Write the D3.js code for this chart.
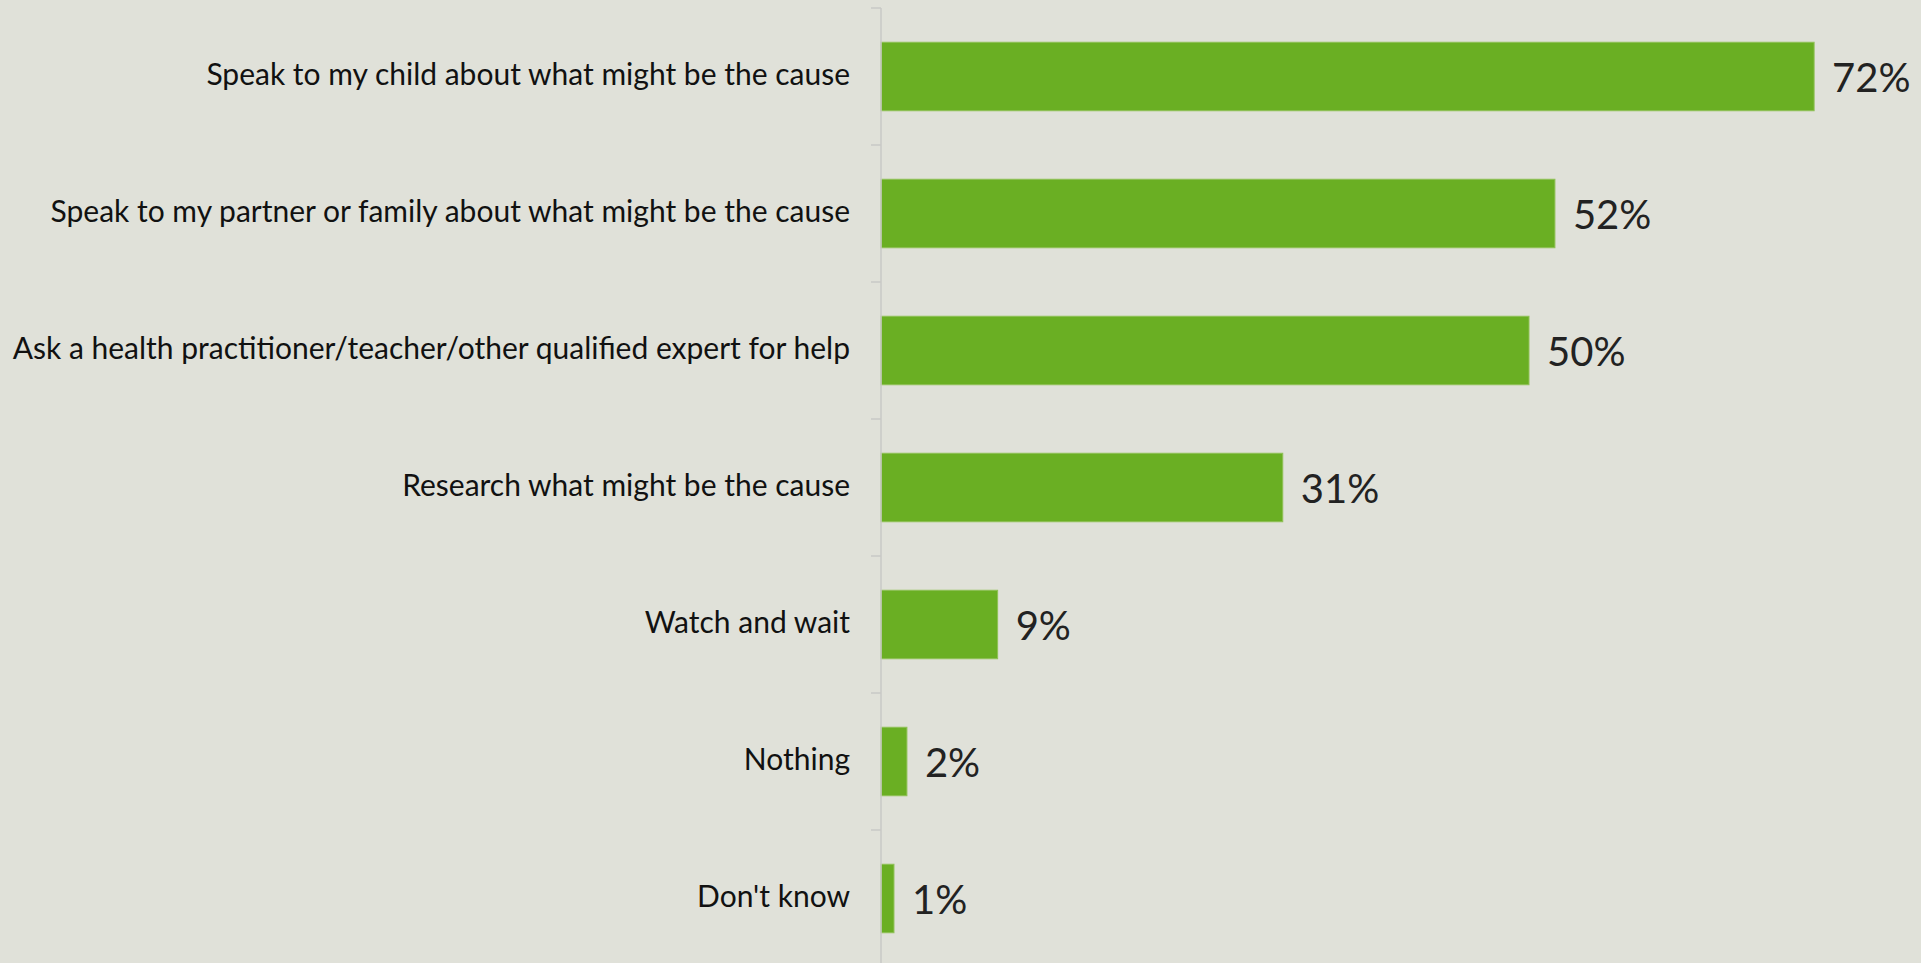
<!DOCTYPE html>
<html>
<head>
<meta charset="utf-8">
<script src="https://cdn.jsdelivr.net/npm/d3@7"></script>
<style>
  html, body { margin: 0; padding: 0; background: #e0e1d9; overflow: hidden; }
  svg { display: block; }
</style>
</head>
<body>
<svg id="chart" width="1921" height="963"></svg>
<script>
// Survey answers and share of respondents (%)
const categories = [
  "Speak to my child about what might be the cause",
  "Speak to my partner or family about what might be the cause",
  "Ask a health practitioner/teacher/other qualified expert for help",
  "Research what might be the cause",
  "Watch and wait",
  "Nothing",
  "Don't know"
];
const values = [72, 52, 50, 31, 9, 2, 1];
const valueLabels = ["72%", "52%", "50%", "31%", "9%", "2%", "1%"];

const width = 1921, height = 963;
const axisX = 881;

const svg = d3.select("#chart");

svg.append("rect")
  .attr("width", width).attr("height", height)
  .attr("fill", "#e0e1d9");

const x = d3.scaleLinear().domain([0, 80]).range([axisX, axisX + 80 * 12.96]);
const y = d3.scaleBand()
  .domain(categories)
  .range([8, 8 + 7 * 137])
  .paddingInner(0.5)
  .paddingOuter(0.25);

// bars
svg.append("g").selectAll("rect")
  .data(values)
  .join("rect")
  .attr("x", x(0))
  .attr("y", (d, i) => y(categories[i]))
  .attr("width", d => x(d) - x(0))
  .attr("height", y.bandwidth())
  .attr("fill", "#6aaf23")
  .attr("stroke", "#8fc156")
  .attr("stroke-width", 1);

// category axis: vertical line plus ticks at band boundaries
const axis = svg.append("g");
axis.append("line")
  .attr("x1", axisX).attr("x2", axisX)
  .attr("y1", y.range()[0]).attr("y2", y.range()[1])
  .attr("stroke", "#c8c8c6").attr("stroke-width", 1.5);
const boundaries = categories.map(c => y(c) - y.step() * y.paddingInner() / 2)
  .concat([y(categories[categories.length - 1]) + y.bandwidth() + y.step() * y.paddingInner() / 2]);
axis.selectAll("line.tick")
  .data(boundaries)
  .join("line")
  .attr("class", "tick")
  .attr("x1", axisX - 10).attr("x2", axisX)
  .attr("y1", d => d).attr("y2", d => d)
  .attr("stroke", "#c8c8c6").attr("stroke-width", 1.5);

// category labels
svg.append("g").selectAll("text")
  .data(categories)
  .join("text")
  .attr("x", axisX - 31)
  .attr("y", d => y(d) + y.bandwidth() / 2 + 8)
  .attr("text-anchor", "end")
  .attr("font-family", "Lato, 'Open Sans', sans-serif")
  .attr("font-size", 30)
  .attr("fill", "#111")
  .text(d => d);

// value labels
svg.append("g").selectAll("text")
  .data(values)
  .join("text")
  .attr("x", d => x(d) + 18)
  .attr("y", (d, i) => y(categories[i]) + y.bandwidth() / 2 + 15)
  .attr("font-family", "Lato, 'Open Sans', sans-serif")
  .attr("font-size", 40)
  .attr("fill", "#222")
  .text((d, i) => valueLabels[i]);
</script>
</body>
</html>
